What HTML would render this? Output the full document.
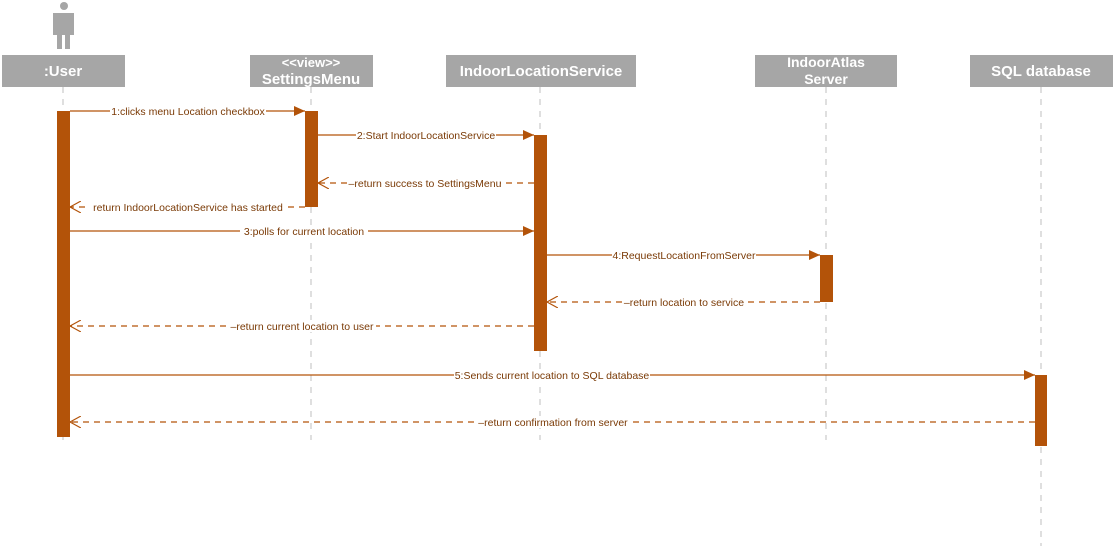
<!DOCTYPE html>
<html><head><meta charset="utf-8"><style>
html,body{margin:0;padding:0;background:#fff;width:1115px;height:546px;overflow:hidden}
svg text{font-family:"Liberation Sans",sans-serif}
</style></head><body>
<svg width="1115" height="546" viewBox="0 0 1115 546" xmlns="http://www.w3.org/2000/svg">
<defs>
<marker id="f" markerWidth="12" markerHeight="10" refX="11" refY="5" orient="auto" markerUnits="userSpaceOnUse"><path d="M0,0 L11,5 L0,10 z" fill="#b35309"/></marker>
<marker id="o" markerWidth="12" markerHeight="12" refX="11" refY="6" orient="auto" markerUnits="userSpaceOnUse"><path d="M0,0 L11,6 L0,12" fill="none" stroke="#b35309" stroke-width="1.2"/></marker>
</defs>
<!-- actor -->
<g fill="#a6a6a6">
<circle cx="64" cy="6" r="4"/>
<rect x="53" y="13" width="21" height="22"/>
<rect x="57" y="30" width="5" height="19"/>
<rect x="65" y="30" width="5" height="19"/>
</g>
<!-- lifelines -->
<g stroke="#bfbfbf" stroke-width="1" stroke-dasharray="6,6">
<line x1="63" y1="87" x2="63" y2="440"/>
<line x1="311" y1="87" x2="311" y2="440"/>
<line x1="540" y1="87" x2="540" y2="440"/>
<line x1="826" y1="87" x2="826" y2="440"/>
<line x1="1041" y1="87" x2="1041" y2="546"/>
</g>
<!-- boxes -->
<g fill="#a6a6a6">
<rect x="2" y="55" width="123" height="32"/>
<rect x="250" y="55" width="123" height="32"/>
<rect x="446" y="55" width="190" height="32"/>
<rect x="755" y="55" width="142" height="32"/>
<rect x="970" y="55" width="143" height="32"/>
</g>
<g fill="#fff" font-weight="bold" text-anchor="middle" font-size="15">
<text x="63" y="76">:User</text>
<text x="311" y="67" font-size="13">&lt;&lt;view&gt;&gt;</text>
<text x="311" y="84">SettingsMenu</text>
<text x="541" y="76">IndoorLocationService</text>
<text x="826" y="67" font-size="14">IndoorAtlas</text>
<text x="826" y="84" font-size="14">Server</text>
<text x="1041" y="76">SQL database</text>
</g>
<!-- activations -->
<g fill="#b35309">
<rect x="57" y="111" width="13" height="326"/>
<rect x="305" y="111" width="13" height="96"/>
<rect x="534" y="135" width="13" height="216"/>
<rect x="820" y="255" width="13" height="47"/>
<rect x="1035" y="375" width="12" height="71"/>
</g>
<!-- messages -->
<g stroke="#b35309" stroke-width="1.2" fill="none">
<line x1="70" y1="111" x2="305" y2="111" marker-end="url(#f)"/>
<line x1="318" y1="135" x2="534" y2="135" marker-end="url(#f)"/>
<line x1="534" y1="183" x2="318" y2="183" stroke-dasharray="6,5" marker-end="url(#o)"/>
<line x1="305" y1="207" x2="70" y2="207" stroke-dasharray="6,5" marker-end="url(#o)"/>
<line x1="70" y1="231" x2="534" y2="231" marker-end="url(#f)"/>
<line x1="547" y1="255" x2="820" y2="255" marker-end="url(#f)"/>
<line x1="820" y1="302" x2="547" y2="302" stroke-dasharray="6,5" marker-end="url(#o)"/>
<line x1="534" y1="326" x2="70" y2="326" stroke-dasharray="6,5" marker-end="url(#o)"/>
<line x1="70" y1="375" x2="1035" y2="375" marker-end="url(#f)"/>
<line x1="1035" y1="422" x2="70" y2="422" stroke-dasharray="6,5" marker-end="url(#o)"/>
</g>
<g font-size="10.5" fill="#7a3a06" text-anchor="middle">
<g fill="#fff">
<rect x="110" y="105" width="156" height="12"/>
<rect x="356" y="129" width="140" height="12"/>
<rect x="348" y="177" width="152" height="12"/>
<rect x="90" y="201" width="196" height="12"/>
<rect x="240" y="225" width="128" height="12"/>
<rect x="612" y="249" width="144" height="12"/>
<rect x="624" y="296" width="120" height="12"/>
<rect x="228" y="320" width="148" height="12"/>
<rect x="454" y="369" width="196" height="12"/>
<rect x="476" y="416" width="154" height="12"/>
</g>
<text x="188" y="115">1:clicks menu Location checkbox</text>
<text x="426" y="139">2:Start IndoorLocationService</text>
<text x="425" y="187">–return success to SettingsMenu</text>
<text x="188" y="211">return IndoorLocationService has started</text>
<text x="304" y="235">3:polls for current location</text>
<text x="684" y="259">4:RequestLocationFromServer</text>
<text x="684" y="306">–return location to service</text>
<text x="302" y="330">–return current location to user</text>
<text x="552" y="379">5:Sends current location to SQL database</text>
<text x="553" y="426">–return confirmation from server</text>
</g>
</svg>
</body></html>
